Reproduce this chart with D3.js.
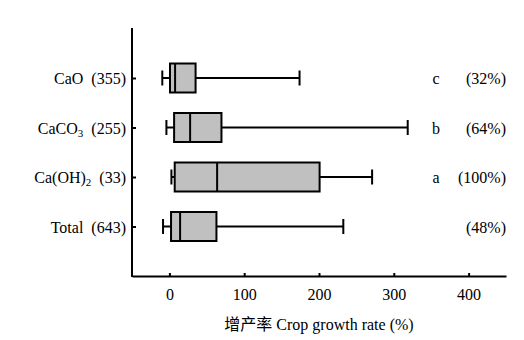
<!DOCTYPE html>
<html><head><meta charset="utf-8">
<script src="https://cdn.jsdelivr.net/npm/d3@7"></script>
<style>
body{margin:0;background:#fff;}
svg text{font-family:"Liberation Serif","Times New Roman","Noto Sans CJK SC",serif;font-size:16px;fill:#000;white-space:pre;}
</style></head><body>
<svg id="c" width="524" height="340"></svg>
<script>
const categories = ["CaO", "CaCO3", "Ca(OH)2", "Total"];
const labelMain = ["CaO", "CaCO", "Ca(OH)", "Total"];
const labelSub = ["", "3", "2", ""];
const counts = [355, 255, 33, 643];
const whiskerMin = [-9.5, -4, 2.7, -8.5];
const q1 = [0.8, 6.3, 7.1, 2.2];
const median = [7.6, 27.7, 63.8, 14.3];
const q3 = [35, 69.6, 200.8, 62.9];
const whiskerMax = [174, 318.6, 271, 232.5];
const groupLetters = ["c", "b", "a", ""];
const shares = ["(32%)", "(64%)", "(100%)", "(48%)"];
const xTicks = [0, 100, 200, 300, 400];
const xLabel = "增产率 Crop growth rate (%)";

const svg = d3.select("#c");
const x = d3.scaleLinear().domain([-50, 450]).range([132, 506]);
const y = d3.scalePoint().domain(categories).range([28.5, 276]).padding(1);

const boxH = 29, capH = 15, sw = 2;

// axes
const gx = svg.append("g").attr("transform", "translate(0,276)")
  .call(d3.axisBottom(x).tickValues(xTicks).tickSizeInner(-3).tickSizeOuter(0).tickPadding(13));
gx.select(".domain").attr("stroke-width", sw);
gx.selectAll(".tick line").attr("stroke-width", sw);
gx.attr("font-size", null).attr("font-family", null);

const gy = svg.append("g").attr("transform", "translate(132,0)")
  .call(d3.axisLeft(y).tickSizeInner(-4).tickSizeOuter(0).tickFormat(""));
gy.select(".domain").attr("stroke-width", sw);
gy.selectAll(".tick line").attr("stroke-width", sw);
gy.select(".domain").attr("d", "M0,28V277");

const rows = categories.map((c, i) => ({c, i}));
const g = svg.append("g").selectAll("g").data(rows).join("g");

// whiskers
g.append("line").attr("x1", d => x(whiskerMin[d.i])).attr("x2", d => x(q1[d.i]))
  .attr("y1", d => y(d.c)).attr("y2", d => y(d.c)).attr("stroke", "#000").attr("stroke-width", sw);
g.append("line").attr("x1", d => x(q3[d.i])).attr("x2", d => x(whiskerMax[d.i]))
  .attr("y1", d => y(d.c)).attr("y2", d => y(d.c)).attr("stroke", "#000").attr("stroke-width", sw);
g.append("line").attr("x1", d => x(whiskerMin[d.i])).attr("x2", d => x(whiskerMin[d.i]))
  .attr("y1", d => y(d.c) - capH / 2).attr("y2", d => y(d.c) + capH / 2).attr("stroke", "#000").attr("stroke-width", sw);
g.append("line").attr("x1", d => x(whiskerMax[d.i])).attr("x2", d => x(whiskerMax[d.i]))
  .attr("y1", d => y(d.c) - capH / 2).attr("y2", d => y(d.c) + capH / 2).attr("stroke", "#000").attr("stroke-width", sw);
// boxes
g.append("rect").attr("x", d => x(q1[d.i])).attr("width", d => x(q3[d.i]) - x(q1[d.i]))
  .attr("y", d => y(d.c) - boxH / 2).attr("height", boxH)
  .attr("fill", "#c0c0c0").attr("stroke", "#000").attr("stroke-width", sw);
g.append("line").attr("x1", d => x(median[d.i])).attr("x2", d => x(median[d.i]))
  .attr("y1", d => y(d.c) - boxH / 2).attr("y2", d => y(d.c) + boxH / 2).attr("stroke", "#000").attr("stroke-width", sw);

// left labels
const lt = g.append("text").attr("x", 126).attr("y", d => y(d.c) + 6).attr("text-anchor", "end");
lt.append("tspan").text(d => labelMain[d.i]);
lt.filter(d => labelSub[d.i]).append("tspan").attr("dy", 3).attr("font-size", "11px").text(d => labelSub[d.i]);
lt.append("tspan").attr("dy", d => labelSub[d.i] ? -3 : 0).text(d => "  (" + counts[d.i] + ")");

// right labels
g.append("text").attr("x", 436).attr("y", d => y(d.c) + 6).attr("text-anchor", "middle").text(d => groupLetters[d.i]);
g.append("text").attr("x", 506).attr("y", d => y(d.c) + 6).attr("text-anchor", "end").text(d => shares[d.i]);

// x label
svg.append("text").attr("x", 319).attr("y", 330).attr("text-anchor", "middle").text(xLabel);
</script></body></html>
